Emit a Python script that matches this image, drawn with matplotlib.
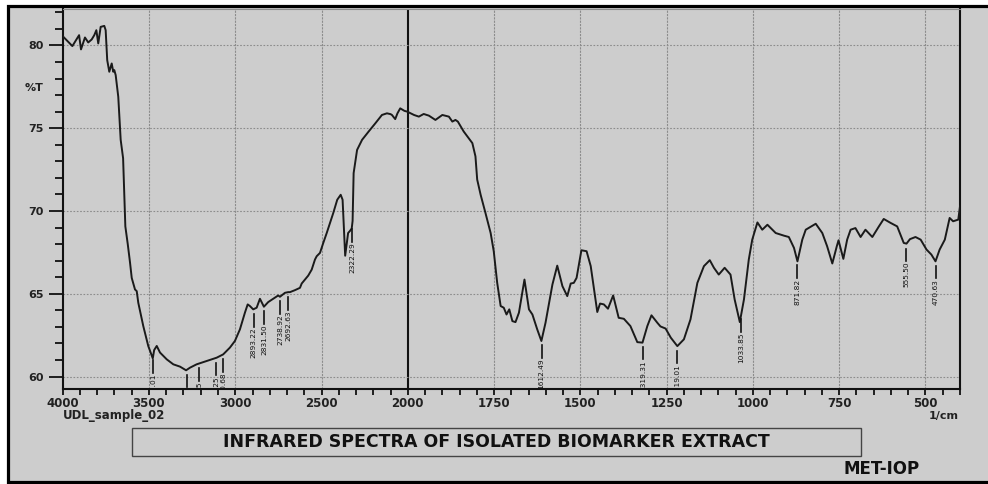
import numpy as np
import matplotlib
matplotlib.use("Agg")
import matplotlib.pyplot as plt
from matplotlib.patches import Rectangle

# spectrum (wavenumber 1/cm, %T)
wavenumber = [4000, 3944, 3905, 3894, 3871, 3852, 3832, 3817, 3805, 3794, 3780, 3759,
              3751, 3742, 3730, 3716, 3707, 3701, 3693, 3678, 3664, 3650, 3637, 3623,
              3610, 3600, 3581, 3571, 3562, 3533, 3504, 3478, 3470, 3455, 3436, 3397,
              3359, 3320, 3285, 3262, 3224, 3166, 3108, 3070, 3031, 3002, 2973, 2944,
              2928, 2915, 2896, 2876, 2857, 2834, 2809, 2780, 2751, 2741, 2712, 2693,
              2683, 2654, 2625, 2615, 2577, 2557, 2538, 2528, 2509, 2490, 2470, 2451,
              2432, 2409, 2389, 2378, 2363, 2346, 2335, 2325, 2320, 2314, 2294, 2265,
              2227, 2188, 2150, 2135, 2121, 2100, 2092, 2073, 2060, 2044, 2020, 2003,
              1982, 1968, 1954, 1939, 1920, 1900, 1881, 1871, 1862, 1855, 1838, 1813,
              1804, 1799, 1789, 1775, 1760, 1751, 1741, 1731, 1722, 1714, 1706, 1697,
              1688, 1678, 1662, 1649, 1639, 1625, 1613, 1601, 1581, 1567, 1552, 1538,
              1528, 1519, 1511, 1497, 1482, 1470, 1451, 1443, 1432, 1420, 1405, 1389,
              1374, 1355, 1335, 1320, 1306, 1294, 1277, 1268, 1253, 1238, 1219, 1200,
              1181, 1161, 1142, 1125, 1113, 1099, 1082, 1065, 1053, 1038, 1026, 1012,
              1002, 987, 973, 958, 934, 910, 896, 881, 871, 857, 847, 818,
              799, 785, 770, 757, 752, 738, 727, 717, 703, 688, 674, 654,
              635, 621, 601, 582, 563, 555, 545, 529, 514, 497, 483, 471,
              459, 444, 430, 420, 405, 400]
transmittance = [80.56, 79.96, 80.62, 79.76, 80.48, 80.18, 80.36, 80.62, 80.92, 80.12, 81.12, 81.18,
                 80.92, 79.11, 78.41, 78.91, 78.41, 78.51, 78.21, 76.90, 74.30, 73.19, 69.07, 68.00,
                 66.90, 65.96, 65.26, 65.16, 64.46, 63.05, 61.84, 61.10, 61.60, 61.85, 61.45, 61.04,
                 60.74, 60.60, 60.38, 60.54, 60.74, 60.94, 61.14, 61.34, 61.75, 62.15, 62.85, 63.86,
                 64.36, 64.26, 64.06, 64.16, 64.70, 64.22, 64.50, 64.70, 64.90, 64.82, 65.06, 65.10,
                 65.10, 65.22, 65.36, 65.62, 66.10, 66.46, 67.07, 67.27, 67.47, 68.07, 68.67, 69.28,
                 69.88, 70.68, 70.98, 70.68, 67.30, 68.67, 68.80, 68.95, 69.40, 72.29, 73.69, 74.30,
                 74.80, 75.30, 75.80, 75.85, 75.90, 75.85, 75.80, 75.55, 75.90, 76.20, 76.05, 76.00,
                 75.80, 75.70, 75.86, 75.76, 75.50, 75.80, 75.70, 75.40, 75.50, 75.40, 74.80, 74.10,
                 73.30, 71.90, 70.98, 69.88, 68.67, 67.57, 65.66, 64.26, 64.16, 63.75, 64.06, 63.35,
                 63.29, 63.86, 65.86, 64.06, 63.75, 62.85, 62.15, 63.25, 65.56, 66.70, 65.46, 64.86,
                 65.62, 65.66, 65.96, 67.63, 67.57, 66.67, 63.90, 64.41, 64.36, 64.10, 64.90, 63.55,
                 63.49, 63.05, 62.08, 62.05, 63.05, 63.70, 63.25, 63.03, 62.90, 62.35, 61.84, 62.25,
                 63.45, 65.66, 66.67, 67.03, 66.57, 66.16, 66.57, 66.16, 64.66, 63.29, 64.66, 67.07,
                 68.27, 69.31, 68.87, 69.17, 68.67, 68.51, 68.43, 67.77, 66.96, 68.27, 68.87, 69.23,
                 68.67, 67.87, 66.83, 67.87, 68.23, 67.11, 68.27, 68.87, 68.97, 68.43, 68.87, 68.43,
                 69.07, 69.52, 69.28, 69.07, 68.07, 68.03, 68.30, 68.43, 68.27, 67.67, 67.37, 66.96,
                 67.67, 68.27, 69.58, 69.38, 69.48, 70.28]

# peak picks (the one near 3280 has its label hidden below the axis)
peak_wn = [3475.01, 3280.00, 3209.55, 3109.25, 3070.68, 2893.22, 2831.50, 2738.92,
           2692.63, 2322.29, 1612.49, 1319.31, 1219.01, 1033.85, 871.82, 555.50, 470.63]
peak_labels = ["3475.01", "", "3209.55", "3109.25", "3070.68", "2893.22", "2831.50", "2738.92",
               "2692.63", "2322.29", "1612.49", "1319.31", "1219.01", "1033.85", "871.82",
               "555.50", "470.63"]

x_major = [4000, 3500, 3000, 2500, 2000, 1750, 1500, 1250, 1000, 750, 500]
y_major = [60, 65, 70, 75, 80]


# shimadzu style axis: above 2000 1/cm is compressed by half
def fwd(w):
    w = np.asarray(w, dtype=float)
    return np.where(w >= 2000, 2000 + (w - 2000) * 0.5, w)


def inv(u):
    u = np.asarray(u, dtype=float)
    return np.where(u >= 2000, 2000 + (u - 2000) * 2.0, u)


W, H = 988, 484
BG = '#cdcdcd'
fig = plt.figure(figsize=(W / 100, H / 100), dpi=100, facecolor='white')

# outer frame, behind everything
fig.patches.append(Rectangle((8 / W, 2 / H), 1.2, 1 - 8 / H, transform=fig.transFigure,
                             facecolor=BG, edgecolor='black', linewidth=2.3, zorder=-10))

ax = fig.add_axes([62.7 / W, 1 - 389 / H, (960 - 62.7) / W, (389 - 9) / H])
ax.set_facecolor(BG)
ax.set_xscale('function', functions=(fwd, inv))
ax.set_xlim(4000, 400)
ax.set_ylim(59.25, 82.2)

minor_x = [w for w in list(range(3900, 2000, -100)) + list(range(1950, 399, -50)) if w not in x_major]
ax.set_xticks(x_major)
ax.set_xticks(minor_x, minor=True)
ax.set_xticklabels([str(w) for w in x_major])
ax.set_yticks(y_major)
ax.set_yticks([v for v in range(60, 83) if v not in y_major], minor=True)

ax.tick_params(axis='x', which='both', direction='out', length=4, width=1.2, pad=2,
               labelsize=8.5, colors='black')
ax.tick_params(axis='y', which='major', direction='out', length=10, width=1.2, pad=3.5,
               labelsize=8)
ax.tick_params(axis='y', which='minor', direction='out', length=5.5, width=1.2)
for lab in ax.get_xticklabels() + ax.get_yticklabels():
    lab.set_fontweight('bold')
    lab.set_color('#222222')

for side in ['left', 'bottom', 'right']:
    ax.spines[side].set_linewidth(1.5)
    ax.spines[side].set_color('#111111')
ax.spines['top'].set_color('#8c8c8c')
ax.spines['top'].set_linewidth(0.8)

# grid
for w in x_major[1:]:
    if w == 2000:
        ax.axvline(w, color='#111111', lw=1.5, zorder=1)
    else:
        ax.axvline(w, color='#8c8c8c', lw=0.8, ls=(0, (2, 1)), zorder=1)
for v in y_major:
    ax.axhline(v, color='#8c8c8c', lw=0.8, ls=(0, (1.5, 1.5)), zorder=1)

ax.plot(wavenumber, transmittance, color='#1a1a1a', lw=1.4, zorder=3)

# peak markers
wn_rev = np.array(wavenumber[::-1], dtype=float)
tr_rev = np.array(transmittance[::-1], dtype=float)
gap, length = 0.3, 0.75
for w, lab in zip(peak_wn, peak_labels):
    t = np.interp(w, wn_rev, tr_rev)
    ax.plot([w, w], [t - gap, t - gap - length], color='#111111', lw=1.2, zorder=3)
    if lab:
        ax.text(w, t - gap - length - 0.05, lab, rotation=90, ha='center', va='top',
                fontsize=5.3, color='#111111', clip_on=True,
                family=['Liberation Sans Narrow', 'DejaVu Sans Condensed', 'DejaVu Sans'])

fig.text(43 / W, 1 - 88 / H, '%T', ha='right', va='center', fontsize=8, fontweight='bold',
         color='#222222')
fig.text(63 / W, 1 - 416 / H, 'UDL_sample_02', ha='left', va='center', fontsize=8.5,
         fontweight='bold', color='#222222')
fig.text(959 / W, 1 - 416 / H, '1/cm', ha='right', va='center', fontsize=8,
         fontweight='bold', color='#222222')

# title box
fig.patches.append(Rectangle((132 / W, 1 - 456 / H), (861 - 132) / W, 28 / H,
                             transform=fig.transFigure, facecolor='none',
                             edgecolor='#444444', linewidth=1.0, zorder=2))
fig.text(496.5 / W, 1 - 442 / H, 'INFRARED SPECTRA OF ISOLATED BIOMARKER EXTRACT',
         ha='center', va='center', fontsize=12.5, fontweight='bold', color='#111111')
fig.text(882 / W, 1 - 469 / H, 'MET-IOP', ha='center', va='center', fontsize=12,
         fontweight='bold', color='#111111')

fig.savefig('out.png', dpi=100, facecolor=fig.get_facecolor())
